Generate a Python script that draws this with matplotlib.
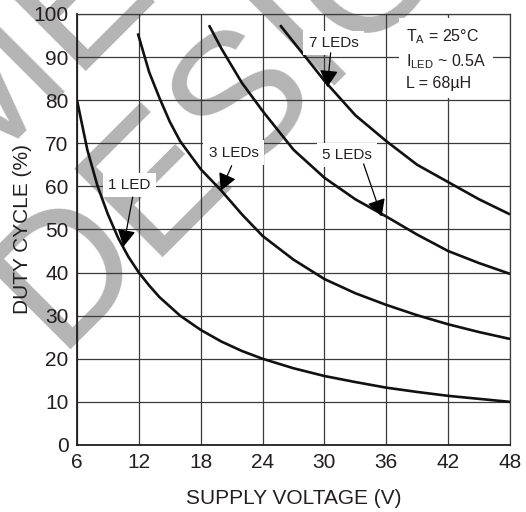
import matplotlib
matplotlib.use('Agg')
import matplotlib.pyplot as plt

plt.rcParams['font.family'] = ['Liberation Sans', 'DejaVu Sans']
plt.rcParams['mathtext.fontset'] = 'custom'
plt.rcParams['mathtext.rm'] = 'Liberation Sans'

# curves (supply voltage V, duty cycle %)
v_1led = [6, 7, 8, 9, 10, 11, 12, 13, 14, 16, 18, 20, 22, 24, 27, 30, 33, 36, 39, 42, 45, 48]
d_1led = [80, 68.5, 60, 53.5, 48, 43.6, 40, 37, 34.3, 30, 26.7, 24, 21.8, 20, 17.8, 16, 14.6, 13.3, 12.3, 11.4, 10.7, 10]

v_3led = [11.9, 13, 14, 15, 16, 18, 20, 22, 24, 27, 30, 33, 36, 39, 42, 45, 48]
d_3led = [95.5, 86.5, 80.5, 75, 70.5, 64, 59, 53.5, 48.5, 43, 38.5, 35.2, 32.5, 30.1, 28, 26.2, 24.6]

v_5led = [18.8, 20, 22, 24, 27, 30, 33, 36, 39, 42, 45, 48]
d_5led = [97.4, 92, 84, 77.5, 68.5, 62, 57, 53, 48.8, 45, 42.2, 39.7]

v_7led = [25.7, 27, 28, 30, 33, 36, 39, 42, 45, 48]
d_7led = [97.4, 93.5, 90.5, 84.5, 76.5, 70.5, 65, 61, 57, 53.5]

x_ticks = [6, 12, 18, 24, 30, 36, 42, 48]
y_ticks = [0, 10, 20, 30, 40, 50, 60, 70, 80, 90, 100]

# label text, label centre, arrow start, arrow tip (data coords)
callouts = [
    ('1 LED', (11.1, 60.3), (11.4, 57.5), (10.5, 46.0)),
    ('3 LEDs', (21.2, 67.8), (21.0, 64.8), (19.95, 59.0)),
    ('5 LEDs', (32.2, 67.3), (33.8, 65.2), (35.55, 53.0)),
    ('7 LEDs', (30.9, 93.3), (30.6, 91.0), (30.28, 83.0)),
]

ink = '#231f20'
fig = plt.figure(figsize=(5.26, 5.12), dpi=100)
ax = fig.add_axes([0.1464, 0.1309, 0.8232, 0.8418])
ax.patch.set_alpha(0)

# watermark behind everything
wm = '#b4b4b4'
fig.text(0.200, 0.516, 'NEW DESIGN', fontsize=130, color=wm, rotation=45,
         ha='center', va='center', rotation_mode='anchor', zorder=-5)
fig.text(-0.045, 0.778, 'NOT RECOMMENDED FOR', fontsize=130, color=wm, rotation=45,
         ha='center', va='center', rotation_mode='anchor', zorder=-5)

for v, d in [(v_1led, d_1led), (v_3led, d_3led), (v_5led, d_5led), (v_7led, d_7led)]:
    ax.plot(v, d, color='#111111', lw=1.9, zorder=3, solid_capstyle='butt')

ax.set_xlim(6, 48)
ax.set_ylim(0, 100)
ax.set_xticks(x_ticks)
ax.set_yticks(y_ticks)
ax.grid(True, color='#3a3a3a', lw=0.9)
ax.tick_params(length=0, labelsize=15, colors=ink, pad=6)
for side in ['top', 'right']:
    ax.spines[side].set_color('#3a3a3a')
    ax.spines[side].set_linewidth(0.9)
for side in ['left', 'bottom']:
    ax.spines[side].set_color(ink)
    ax.spines[side].set_linewidth(1.3)

ax.set_xlabel('SUPPLY VOLTAGE (V)', fontsize=15, color=ink, labelpad=12)
ax.set_ylabel('DUTY CYCLE (%)', fontsize=15, color=ink, labelpad=1)

for label, pos, start, tip in callouts:
    ax.text(pos[0], pos[1], label, fontsize=11, color=ink, ha='center', va='center',
            zorder=4, bbox=dict(boxstyle='square,pad=0.35', fc='white', ec='none'))
    ax.annotate('', xy=tip, xytext=start, zorder=5,
                arrowprops=dict(arrowstyle='-|>,head_length=0.65,head_width=0.35',
                                mutation_scale=16, lw=0.9, color='black',
                                shrinkA=0, shrinkB=0))

ax.text(37.9, 89.5, 'T$_\\mathregular{A}$ = 25°C\nI$_\\mathregular{LED}$ ~ 0.5A\nL = 68µH',
        fontsize=11.5, color=ink, ha='left', va='center', linespacing=1.45, zorder=4,
        bbox=dict(boxstyle='square,pad=0.45', fc='white', ec='none'))

fig.savefig('out.png', dpi=100)
